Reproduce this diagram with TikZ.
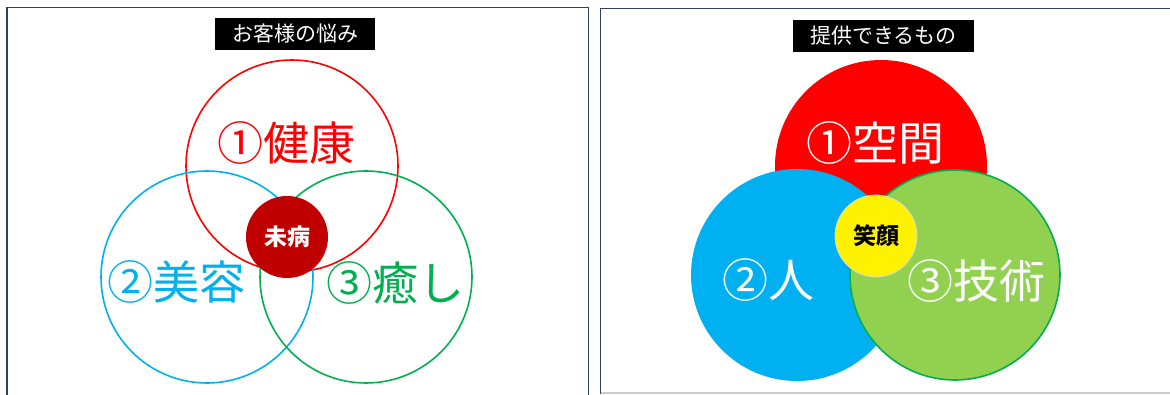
\documentclass[tikz,border=0pt]{standalone}
\usepackage{fontspec}
\newfontfamily\jp{Noto Sans CJK JP}
\definecolor{frame}{HTML}{2E3F60}
\definecolor{cred}{HTML}{FF0000}
\definecolor{cblue}{HTML}{00B0F0}
\definecolor{cgreen}{HTML}{00B050}
\definecolor{lgreen}{HTML}{92D050}
\definecolor{dred}{HTML}{C00000}
\tikzset{
  panel/.style={draw=frame,line width=1.8pt},
  titlebox/.style={fill=black,text=white,font=\jp\fontsize{21}{21}\selectfont,inner sep=0pt,minimum height=32pt},
  ring/.style={circle,line width=1.6pt,inner sep=0pt,minimum size=212pt},
  small/.style={circle,inner sep=0pt,minimum size=82pt,font=\jp\bfseries\fontsize{23}{23}\selectfont},
  big/.style={font=\jp\fontsize{46}{46}\selectfont,inner sep=0pt}
}
\begin{document}
\begin{tikzpicture}[x=1pt,y=-1pt]
\useasboundingbox (0,0) rectangle (1170,394);
\fill[white] (0,0) rectangle (1170,394);
% frames
\begin{scope}
\clip (0,0) rectangle (1170,394);
\draw[panel] (7,7.5) rectangle (588.5,420);
\draw[panel] (600.5,8.5) rectangle (1200,393);
\draw[draw=gray!40,line width=1.2pt] (600.5,393) -- (1170,393);
\end{scope}
% left panel
\node[titlebox,minimum width=160pt] (t1) at (295,34) {お客様の悩み};
\node[ring,draw=cred] (c1) at (292,166) {};
\node[ring,draw=cblue] (c2) at (207,277) {};
\node[ring,draw=cgreen] (c3) at (366,277) {};
\node[small,fill=dred,text=white] (m1) at (287,237) {未病};
\node[big,text=cred] (l1) at (286,143) {①健康};
\node[big,text=cblue] (l2) at (176,282) {②美容};
\node[big,text=cgreen] (l3) at (395,283) {③癒し};
% right panel
\node[titlebox,minimum width=181pt] (t2) at (883.5,36) {提供できるもの};
\node[ring,fill=cred] (d1) at (881,166) {};
\node[ring,fill=cblue] (d2) at (797,275) {};
\node[ring,fill=lgreen,draw=cgreen,minimum size=210pt] (d3) at (955,275) {};
\node[small,fill=yellow,draw=gray!30,line width=0.8pt,text=black] (m2) at (876,236) {笑顔};
\node[big,text=white] (r1) at (875,143) {①空間};
\node[big,text=white] (r2) at (768,280) {②人};
\node[big,text=white] (r3) at (976,281) {③技術};
\end{tikzpicture}
\end{document}
